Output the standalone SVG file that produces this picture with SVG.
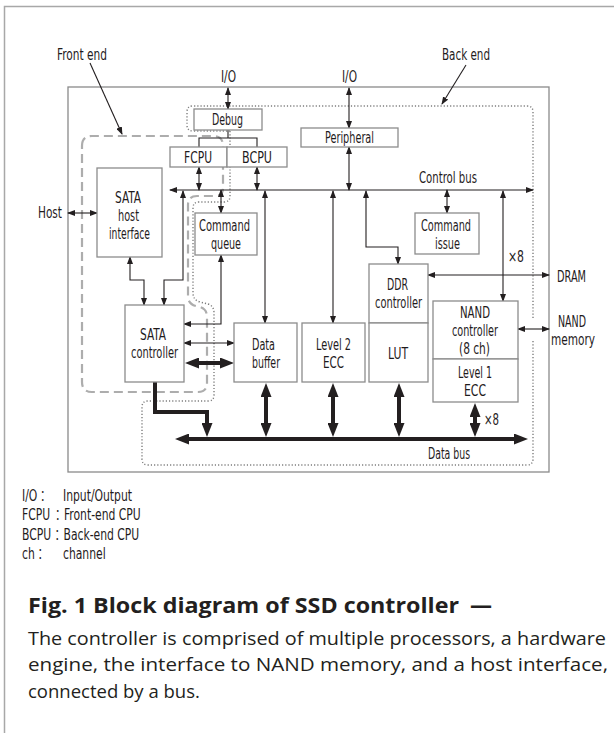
<svg xmlns="http://www.w3.org/2000/svg" width="614" height="733" viewBox="0 0 614 733">
<defs>
<style>
.t{font-family:"Liberation Sans Narrow","DejaVu Sans Condensed","Liberation Sans","Noto Sans CJK JP",sans-serif;font-size:16px;fill:#1f1b1c}
.lg{font-family:"DejaVu Sans Condensed","Liberation Sans",sans-serif;font-size:16px;fill:#1f1b1c}
.c{font-family:"Noto Sans CJK JP",sans-serif;font-size:14px;fill:#1f1b1c}
.box{fill:#fff;stroke:#8c8c8c;stroke-width:1.3}
.ln{fill:none;stroke:#231f20;stroke-width:1.1}
.th{fill:none;stroke:#231f20;stroke-width:4}
.cap{font-family:"Open Sans","Noto Sans","Liberation Sans",sans-serif;fill:#231f20}
</style>
<marker id="a" viewBox="0 0 8 6" refX="7" refY="3" markerWidth="8" markerHeight="6" markerUnits="userSpaceOnUse" orient="auto-start-reverse"><path d="M0,0 L8,3 L0,6 z" fill="#231f20"/></marker>
<marker id="b" viewBox="0 0 14 11" refX="5" refY="5.5" markerWidth="14" markerHeight="11" markerUnits="userSpaceOnUse" orient="auto-start-reverse"><path d="M0,0 L14,5.5 L0,11 z" fill="#231f20"/></marker>
</defs>
<rect width="614" height="733" fill="#fff"/>
<path d="M4.5,733 V6.5 H614" fill="none" stroke="#a8a8a8" stroke-width="1.5"/>

<g id="main_box"><rect x="68" y="87" width="481" height="385" fill="none" stroke="#8a8a8a" stroke-width="1.3"/></g>

<g id="front_end_region">
<path d="M82,146 Q82,136 92,136 H213 Q223,136 223,146 V188 Q223,196 215,196 H197 Q188,196 188,205 V296 Q188,304 196,306 L200,307 Q207,309 207,317 V383 Q207,392 198,392 H92 Q82,392 82,382 Z" fill="none" stroke="#adadad" stroke-width="2.2" stroke-dasharray="9 5"/>
<text class="t" x="57" y="60" textLength="50" lengthAdjust="spacingAndGlyphs">Front end</text>
</g>
<g id="back_end_region">
<path d="M230,131 V196 Q230,202 224,202 H199 Q193,202 193,208 V293 Q193,300 200,302 L208,304 Q214,306 214,313 V395 Q214,401 208,401 H148 Q142,401 142,407 V459 Q142,465 148,465 H527 Q533,465 533,459 V340 M533,318 V112 Q533,106 527,106 H193 Q187,106 187,112 V125 Q187,131 193,131 H230" fill="none" stroke="#7d7d7d" stroke-width="1.4" stroke-dasharray="1.2 2"/>
<text class="t" x="442" y="60" textLength="48" lengthAdjust="spacingAndGlyphs">Back end</text>
</g>

<g id="connectors">
<path class="ln" marker-end="url(#a)" d="M90,63 L122,134"/>
<path class="ln" marker-end="url(#a)" d="M466,65 L442,104"/>
<path class="ln" marker-start="url(#a)" marker-end="url(#a)" d="M228,88 V109"/>
<path class="ln" marker-start="url(#a)" marker-end="url(#a)" d="M349,88 V128"/>
<path class="ln" marker-start="url(#a)" marker-end="url(#a)" d="M349,147 V190"/>
<path class="ln" marker-start="url(#a)" marker-end="url(#a)" d="M199,167 V190"/>
<path class="ln" marker-start="url(#a)" marker-end="url(#a)" d="M257,167 V190"/>
<path class="ln" d="M228,130 V138 M199,147 V138 H257 V147"/>
<path class="ln" marker-start="url(#a)" marker-end="url(#a)" d="M170,190 H533"/>
<path class="ln" marker-start="url(#a)" marker-end="url(#a)" d="M221,190 V213"/>
<path class="ln" marker-start="url(#a)" marker-end="url(#a)" d="M447,190 V213"/>
<path class="ln" marker-start="url(#a)" marker-end="url(#a)" d="M183,191 V280 H164 V305"/>
<path class="ln" marker-start="url(#a)" marker-end="url(#a)" d="M130,257 V280 H144 V305"/>
<path class="ln" marker-start="url(#a)" marker-end="url(#a)" d="M68,213 H97"/>
<path class="ln" marker-start="url(#a)" marker-end="url(#a)" d="M221,255 V324 H184"/>
<path class="ln" marker-start="url(#a)" marker-end="url(#a)" d="M265,191 V323"/>
<path class="ln" marker-start="url(#a)" marker-end="url(#a)" d="M333,191 V323"/>
<path class="ln" marker-start="url(#a)" marker-end="url(#a)" d="M366,191 V247 H398 V264"/>
<path class="ln" marker-start="url(#a)" marker-end="url(#a)" d="M503,191 V301"/>
<path class="ln" marker-start="url(#a)" marker-end="url(#a)" d="M428,275 H549"/>
<path class="ln" marker-start="url(#a)" marker-end="url(#a)" d="M518,329 H549"/>
<path class="ln" marker-start="url(#a)" marker-end="url(#a)" d="M184,343 H234"/>
<path class="th" marker-start="url(#b)" marker-end="url(#b)" d="M194,363 H225"/>
<path class="th" marker-start="url(#b)" marker-end="url(#b)" d="M184,439 H519"/>
<path class="th" marker-end="url(#b)" d="M155,382 V412 H207 V428"/>
<path class="th" marker-start="url(#b)" marker-end="url(#b)" d="M266,392 V428"/>
<path class="th" marker-start="url(#b)" marker-end="url(#b)" d="M333,392 V428"/>
<path class="th" marker-start="url(#b)" marker-end="url(#b)" d="M399,392 V428"/>
<path class="th" marker-start="url(#b)" marker-end="url(#b)" d="M475,412 V428"/>
<text class="t" x="419" y="183" textLength="58" lengthAdjust="spacingAndGlyphs">Control bus</text>
<text class="t" x="428" y="459" textLength="42" lengthAdjust="spacingAndGlyphs">Data bus</text>
<text class="t" x="508" y="262" textLength="16" lengthAdjust="spacingAndGlyphs">×8</text>
<text class="t" x="484" y="425" textLength="15" lengthAdjust="spacingAndGlyphs">×8</text>
</g>

<g id="io_debug"><text class="t" x="221" y="82" textLength="15" lengthAdjust="spacingAndGlyphs">I/O</text></g>
<g id="io_peripheral"><text class="t" x="342" y="82" textLength="15" lengthAdjust="spacingAndGlyphs">I/O</text></g>
<g id="host"><text class="t" x="38" y="218" textLength="24" lengthAdjust="spacingAndGlyphs">Host</text></g>
<g id="dram"><text class="t" x="557" y="282" textLength="29" lengthAdjust="spacingAndGlyphs">DRAM</text></g>
<g id="nand_memory">
<text class="t" x="558" y="327" textLength="28" lengthAdjust="spacingAndGlyphs">NAND</text>
<text class="t" x="551" y="345" textLength="44" lengthAdjust="spacingAndGlyphs">memory</text>
</g>

<g id="debug"><rect class="box" x="194" y="109" width="68" height="21"/>
<text class="t" x="212" y="125" textLength="31" lengthAdjust="spacingAndGlyphs">Debug</text></g>
<g id="fcpu"><rect class="box" x="170" y="147" width="57" height="20"/>
<text class="t" x="184" y="163" textLength="28" lengthAdjust="spacingAndGlyphs">FCPU</text></g>
<g id="bcpu"><rect class="box" x="227" y="147" width="60" height="20"/>
<text class="t" x="242" y="163" textLength="30" lengthAdjust="spacingAndGlyphs">BCPU</text></g>
<g id="peripheral"><rect class="box" x="301" y="128" width="97" height="19"/>
<text class="t" x="325" y="143" textLength="49" lengthAdjust="spacingAndGlyphs">Peripheral</text></g>
<g id="sata_host_interface"><rect class="box" x="97" y="168" width="65" height="89"/>
<text class="t" x="115" y="203" textLength="26" lengthAdjust="spacingAndGlyphs">SATA</text>
<text class="t" x="118" y="221" textLength="21" lengthAdjust="spacingAndGlyphs">host</text>
<text class="t" x="109" y="239" textLength="41" lengthAdjust="spacingAndGlyphs">interface</text></g>
<g id="command_queue"><rect class="box" x="195" y="213" width="62" height="42"/>
<text class="t" x="199" y="230.5" textLength="51" lengthAdjust="spacingAndGlyphs">Command</text>
<text class="t" x="211" y="248.5" textLength="30" lengthAdjust="spacingAndGlyphs">queue</text></g>
<g id="command_issue"><rect class="box" x="415" y="213" width="64" height="41"/>
<text class="t" x="421" y="230.5" textLength="50" lengthAdjust="spacingAndGlyphs">Command</text>
<text class="t" x="435" y="248.5" textLength="25" lengthAdjust="spacingAndGlyphs">issue</text></g>
<g id="sata_controller"><rect class="box" x="125" y="305" width="59" height="77"/>
<text class="t" x="140" y="339.5" textLength="26" lengthAdjust="spacingAndGlyphs">SATA</text>
<text class="t" x="131" y="357.5" textLength="47" lengthAdjust="spacingAndGlyphs">controller</text></g>
<g id="data_buffer"><rect class="box" x="234" y="323" width="63" height="59"/>
<text class="t" x="252" y="350" textLength="23" lengthAdjust="spacingAndGlyphs">Data</text>
<text class="t" x="252" y="368" textLength="28" lengthAdjust="spacingAndGlyphs">buffer</text></g>
<g id="level2_ecc"><rect class="box" x="302" y="323" width="63" height="59"/>
<text class="t" x="316" y="350" textLength="35" lengthAdjust="spacingAndGlyphs">Level 2</text>
<text class="t" x="323" y="368" textLength="21" lengthAdjust="spacingAndGlyphs">ECC</text></g>
<g id="ddr_controller"><rect class="box" x="369" y="264" width="59" height="59"/>
<text class="t" x="387" y="290" textLength="21" lengthAdjust="spacingAndGlyphs">DDR</text>
<text class="t" x="375" y="308" textLength="47" lengthAdjust="spacingAndGlyphs">controller</text></g>
<g id="lut"><rect class="box" x="369" y="323" width="59" height="59"/>
<text class="t" x="388" y="359" textLength="20" lengthAdjust="spacingAndGlyphs">LUT</text></g>
<g id="nand_controller"><rect class="box" x="433" y="301" width="85" height="58"/>
<text class="t" x="460" y="318" textLength="30" lengthAdjust="spacingAndGlyphs">NAND</text>
<text class="t" x="452" y="336" textLength="46" lengthAdjust="spacingAndGlyphs">controller</text>
<text class="t" x="459" y="354" textLength="31" lengthAdjust="spacingAndGlyphs">(8 ch)</text></g>
<g id="level1_ecc"><rect class="box" x="433" y="359" width="85" height="43"/>
<text class="t" x="458" y="377.5" textLength="34" lengthAdjust="spacingAndGlyphs">Level 1</text>
<text class="t" x="464" y="395.5" textLength="22" lengthAdjust="spacingAndGlyphs">ECC</text></g>

<g id="legend" transform="matrix(0.75,0,0,1,0,0)">
<text class="lg" y="501"><tspan x="29.33">I/O</tspan><tspan class="c" x="50">：</tspan><tspan x="84">Input/Output</tspan></text>
<text class="lg" y="520"><tspan x="29.33">FCPU</tspan><tspan class="c" x="70">：</tspan><tspan x="85.33">Front-end CPU</tspan></text>
<text class="lg" y="540"><tspan x="29.33">BCPU</tspan><tspan class="c" x="69.33">：</tspan><tspan x="84.67">Back-end CPU</tspan></text>
<text class="lg" y="559"><tspan x="29.33">ch</tspan><tspan class="c" x="46.67">：</tspan><tspan x="84">channel</tspan></text>
</g>

<g id="caption">
<text class="cap" y="613" font-size="22" font-weight="bold"><tspan x="28" textLength="431" lengthAdjust="spacingAndGlyphs">Fig. 1 Block diagram of SSD controller</tspan><tspan x="470">—</tspan></text>
<text class="cap" x="28" y="645" font-size="18.5" fill="#333" textLength="578" lengthAdjust="spacingAndGlyphs">The controller is comprised of multiple processors, a hardware</text>
<text class="cap" x="28" y="671" font-size="18.5" fill="#333" textLength="580" lengthAdjust="spacingAndGlyphs">engine, the interface to NAND memory, and a host interface,</text>
<text class="cap" x="28" y="698" font-size="18.5" fill="#333">connected by a bus.</text>
</g>
</svg>
